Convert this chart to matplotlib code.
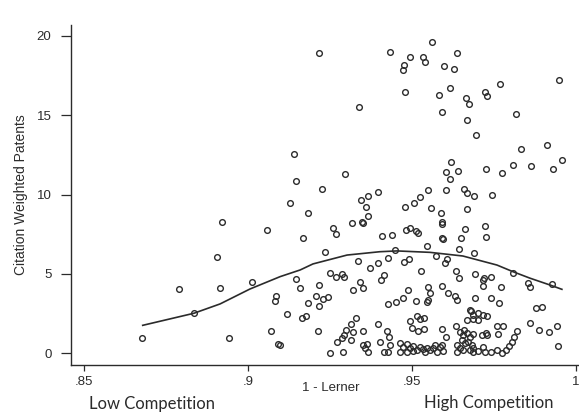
import matplotlib
matplotlib.use("Agg")
import matplotlib.pyplot as plt

# industry-year observations: 1 - Lerner index vs citation weighted patents
lerner = [
    0.9217, 0.9433, 0.9493, 0.9534, 0.9539, 0.9562, 0.9638, 0.9475, 0.9472, 0.9598,
    0.9628, 0.9479, 0.9616, 0.9582, 0.9666, 0.9675, 0.9723, 0.9728, 0.9767, 0.9947,
    0.9339, 0.9592, 0.9817, 0.9668, 0.9694, 0.9140, 0.9832, 0.9912, 0.9957, 0.9147,
    0.9295, 0.9619, 0.9604, 0.9641, 0.9616, 0.9725, 0.9774, 0.9809, 0.9864, 0.9930,
    0.9227, 0.9344, 0.9367, 0.9397, 0.9129, 0.9524, 0.9550, 0.9507, 0.9604, 0.9658,
    0.9667, 0.9688, 0.9743, 0.9361, 0.9479, 0.9559, 0.9668, 0.9183, 0.9588, 0.9365,
    0.9316, 0.9347, 0.9352, 0.9260, 0.9268, 0.9169, 0.9409, 0.9440, 0.9482, 0.9494,
    0.9512, 0.9519, 0.9545, 0.9235, 0.9448, 0.9426, 0.9476, 0.9490, 0.9334, 0.9397,
    0.9372, 0.9527, 0.9145, 0.9250, 0.9268, 0.9286, 0.9294, 0.9415, 0.9405, 0.9341,
    0.9352, 0.9217, 0.9159, 0.9321, 0.9489, 0.9550,
    0.9592, 0.9592, 0.9662, 0.9723, 0.9726, 0.9648, 0.9591, 0.9594, 0.9644, 0.9690,
    0.9573, 0.9608, 0.9601, 0.9634, 0.9644, 0.9692, 0.9716, 0.9720, 0.9741, 0.9717,
    0.9771, 0.9809, 0.9855, 0.9860, 0.9926, 0.9592,
    0.8922, 0.9057, 0.8905, 0.8791, 0.8916, 0.9013, 0.9085, 0.9082, 0.8836, 0.9120,
    0.9070, 0.8941, 0.9091, 0.8678,
    0.9207, 0.9228, 0.9243, 0.9183, 0.9216, 0.9164, 0.9176, 0.9213, 0.9329, 0.9314,
    0.9299, 0.9319, 0.9352, 0.9294, 0.9286, 0.9313, 0.9272, 0.9396, 0.9350, 0.9364,
    0.9357, 0.9250, 0.9291, 0.9098, 0.9367, 0.9402, 0.9433, 0.9416, 0.9427,
    0.9555, 0.9609, 0.9631, 0.9636, 0.9426, 0.9450, 0.9473, 0.9512, 0.9545, 0.9550,
    0.9677, 0.9494, 0.9514, 0.9524, 0.9537, 0.9501, 0.9517, 0.9537, 0.9423, 0.9430,
    0.9591, 0.9634, 0.9604, 0.9659, 0.9667, 0.9687,
    0.9463, 0.9473, 0.9484, 0.9494, 0.9504, 0.9514, 0.9524, 0.9534, 0.9545, 0.9555,
    0.9565, 0.9575, 0.9585, 0.9595, 0.9463, 0.9484, 0.9504, 0.9540, 0.9570, 0.9591,
    0.9646, 0.9656, 0.9667, 0.9677, 0.9652, 0.9662, 0.9672, 0.9682, 0.9636, 0.9646,
    0.9656, 0.9677, 0.9687, 0.9636,
    0.9692, 0.9740, 0.9766, 0.9877, 0.9895, 0.9860, 0.9887, 0.9919, 0.9943, 0.9944,
    0.9760, 0.9777, 0.9763, 0.9821, 0.9811, 0.9804, 0.9797, 0.9787, 0.9773, 0.9758,
    0.9740, 0.9717, 0.9723, 0.9702, 0.9687, 0.9687, 0.9713, 0.9728, 0.9726, 0.9680,
    0.9687, 0.9702, 0.9716, 0.9730, 0.9702,
]

patents = [
    18.90, 19.00, 18.69, 18.65, 18.37, 19.62, 18.92, 18.17, 17.87, 18.10,
    17.91, 16.46, 16.74, 16.26, 16.09, 15.73, 16.48, 16.21, 16.99, 17.20,
    15.52, 15.22, 15.06, 14.70, 13.74, 12.58, 12.85, 13.11, 12.16, 10.88,
    11.30, 12.03, 11.44, 11.49, 10.98, 11.59, 11.34, 11.86, 11.82, 11.63,
    10.37, 9.66, 9.91, 10.14, 9.45, 9.87, 10.31, 9.47, 10.31, 10.37,
    10.12, 9.91, 9.97, 9.22, 9.22, 9.17, 9.11, 8.82, 8.86, 8.65,
    8.19, 8.29, 8.23, 7.88, 7.52, 7.28, 7.39, 7.45, 7.77, 7.88,
    7.73, 7.56, 6.76, 6.40, 6.51, 5.99, 5.73, 5.94, 5.82, 5.71,
    5.36, 5.20, 4.68, 5.04, 4.79, 5.00, 4.79, 4.93, 4.62, 4.51,
    4.13, 4.30, 4.10, 3.99, 3.99, 4.16,
    8.29, 8.15, 7.81, 8.02, 7.35, 7.28, 7.25, 7.18, 6.55, 6.34,
    6.13, 5.92, 5.71, 5.19, 4.76, 4.98, 4.62, 4.76, 4.79, 4.24,
    4.20, 5.04, 4.41, 4.16, 4.37, 4.24,
    8.29, 7.79, 6.07, 4.03, 4.13, 4.49, 3.61, 3.30, 2.52, 2.50,
    1.41, 0.98, 0.59, 0.95,
    3.61, 3.42, 3.53, 3.15, 2.98, 2.21, 2.35, 1.42, 2.21, 1.83,
    1.47, 1.36, 1.42, 1.15, 0.95, 0.84, 0.69, 1.85, 0.52, 0.59,
    0.32, 0.04, 0.06, 0.52, 0.10, 0.69, 0.52, 0.10, 0.05,
    3.78, 3.82, 3.61, 3.36, 3.09, 3.25, 3.47, 3.31, 3.25, 3.36,
    2.73, 2.04, 2.35, 2.14, 2.21, 1.58, 1.42, 1.53, 1.42, 1.05,
    1.51, 1.74, 1.01, 1.47, 2.10, 2.13,
    0.63, 0.42, 0.57, 0.32, 0.48, 0.21, 0.42, 0.27, 0.35, 0.21,
    0.32, 0.10, 0.42, 0.14, 0.10, 0.10, 0.14, 0.10, 0.52, 0.52,
    1.36, 1.15, 1.26, 1.05, 0.84, 0.63, 0.73, 0.52, 0.52, 0.32,
    0.21, 0.21, 0.32, 0.10,
    3.50, 3.47, 3.15, 2.87, 2.94, 1.93, 1.47, 1.36, 1.72, 0.48,
    1.72, 1.72, 1.20, 1.41, 1.05, 0.73, 0.46, 0.21, 0.00, 0.21,
    0.10, 0.42, 0.10, 0.16, 0.10, 1.20, 1.15, 1.15, 1.26, 2.67,
    2.41, 2.52, 2.41, 2.35, 2.10,
]

# fitted inverted-U curve
fit_x = [0.8679, 0.8835, 0.8915, 0.9006, 0.9098, 0.9159, 0.9198, 0.9302, 0.9402,
         0.9454, 0.9555, 0.9655, 0.9759, 0.9808, 0.9860, 0.9921, 0.9957]
fit_y = [1.76, 2.52, 3.11, 4.05, 4.83, 5.25, 5.63, 6.19, 6.40,
         6.45, 6.36, 6.13, 5.56, 5.14, 4.73, 4.30, 4.03]

x_ticks = [0.85, 0.90, 0.95, 1.00]
x_tick_labels = [".85", ".9", ".95", "1"]
y_ticks = [0, 5, 10, 15, 20]

INK = "#2b2b2b"
plt.rcParams["font.family"] = ["Liberation Sans", "DejaVu Sans"]

fig = plt.figure(figsize=(5.79, 4.12), dpi=100)
ax = fig.add_axes([71 / 579, 47 / 412, 508 / 579, 340 / 412])

ax.plot(lerner, patents, linestyle="none", marker="o", markersize=4.1,
        markerfacecolor="none", markeredgecolor=INK, markeredgewidth=1.0)
ax.plot(fit_x, fit_y, color=INK, linewidth=1.2)

ax.set_xlim(0.84604, 1.00091)
ax.set_ylim(-0.74, 20.69)

ax.set_xticks(x_ticks)
ax.set_xticklabels(x_tick_labels)
ax.set_yticks(y_ticks)

for side in ["top", "right"]:
    ax.spines[side].set_visible(False)
for side in ["left", "bottom"]:
    ax.spines[side].set_color(INK)
    ax.spines[side].set_linewidth(1.0)

ax.tick_params(axis="y", direction="out", length=7, width=0.9, pad=7,
               colors=INK, labelsize=9.5)
ax.tick_params(axis="x", direction="out", length=4, width=0.9, pad=4,
               colors=INK, labelsize=9.5)

ax.set_ylabel("Citation Weighted Patents", fontsize=10, color=INK, labelpad=6)

ax.text(0.512, -0.068, "1 - Lerner", transform=ax.transAxes,
        ha="center", va="center", fontsize=9.5, color=INK)
ax.text(0.159, -0.115, "Low Competition", transform=ax.transAxes,
        ha="center", va="center", fontsize=12, color=INK, family="Lato")
ax.text(0.823, -0.112, "High Competition", transform=ax.transAxes,
        ha="center", va="center", fontsize=12, color=INK, family="Lato")

fig.savefig("out.png", dpi=100)
